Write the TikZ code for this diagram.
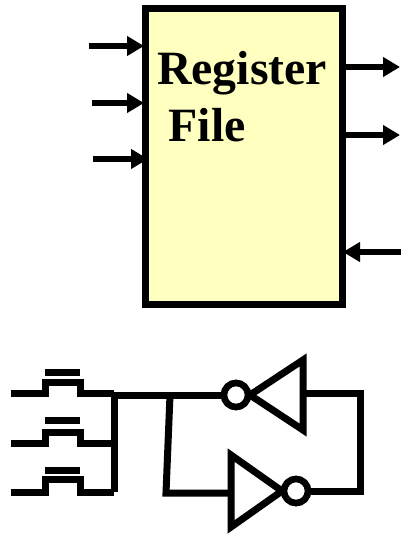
\documentclass[tikz,border=0pt]{standalone}
\usepackage{fontspec}
\setmainfont{Liberation Serif}
\usetikzlibrary{arrows.meta}
\definecolor{regfill}{RGB}{255,255,192}
\tikzset{
  wire/.style={line width=7pt,line cap=butt,line join=miter},
  sig/.style={line width=6.5pt,-{Triangle[length=17pt,width=19pt]}},
  regbox/.style={draw,line width=7pt,fill=regfill,inner sep=0pt},
  lbl/.style={font=\bfseries\fontsize{47.8pt}{47.8pt}\selectfont,anchor=base west,inner sep=0pt},
  bubble/.style={circle,draw,line width=6.5pt,fill=white,minimum size=24pt,inner sep=0pt}
}
\begin{document}
\begin{tikzpicture}[x=1pt,y=-1pt]
\useasboundingbox (0,0) rectangle (400,535);
% register file
\node[regbox,minimum width=197pt,minimum height=295pt] (reg) at (243.5,156.5) {};
\node[lbl] (t1) at (157,84) {Register};
\node[lbl] (t2) at (168.5,141) {File};
\coordinate (i1) at (89,46); \coordinate (i1e) at (144,46);
\coordinate (i2) at (92,103); \coordinate (i2e) at (144,103);
\coordinate (i3) at (93,159); \coordinate (i3e) at (148,159);
\coordinate (o1s) at (345,67); \coordinate (o1) at (400,67);
\coordinate (o2s) at (345,135); \coordinate (o2) at (400,135);
\coordinate (o3s) at (401,252); \coordinate (o3) at (343,252);
\foreach \a/\b in {i1/i1e,i2/i2e,i3/i3e,o1s/o1,o2s/o2,o3s/o3}
  \draw[sig] (\a) -- (\b);
% pass transistors
\foreach \n/\y/\t/\g in {a/393/382/372, b/443/432/420, c/492/479/470}{
  \coordinate (s\n) at (11,\y);
  \coordinate (d\n) at (114,\y);
  \draw[wire] (s\n) -- (45,\y) -- (45,\t) -- (80,\t) -- (80,\y) -- (d\n);
  \draw[line width=7pt] (45,\g) -- (80,\g);
}
\draw[wire,line cap=square] (114,395) -- (114,492);
% inverters
\node[bubble] (b1) at (236,395) {};
\node[bubble] (b2) at (296,491) {};
\coordinate (bus) at (114,395);
\coordinate (tap) at (170,395);
\coordinate (tapb) at (166,493);
\coordinate (tri2in) at (231,493);
\coordinate (tri1out) at (303,393);
\coordinate (rt) at (360,393);
\coordinate (rb) at (360,491);
\draw[wire] (bus) -- (b1);
\draw[wire] (tap) -- (tapb) -- (tri2in);
\draw[wire] (tri1out) -- (rt) -- (rb) -- (b2);
\draw[wire,line join=miter] (250,395) -- (303,360) -- (303,430) -- cycle;
\draw[wire,line join=miter] (282,491) -- (231,455) -- (231,527) -- cycle;
\node[bubble] at (b1) {};
\node[bubble] at (b2) {};
\end{tikzpicture}
\end{document}
